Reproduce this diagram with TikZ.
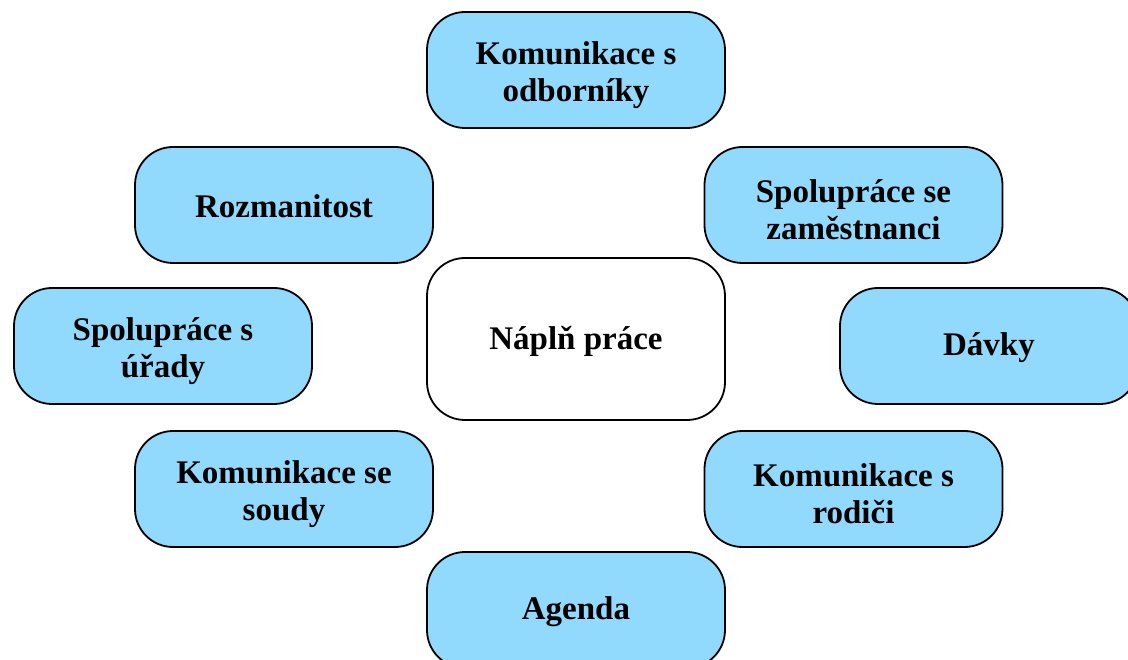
\documentclass[tikz,border=0pt]{standalone}
\usepackage{fontspec}
\setmainfont{Liberation Serif}
\definecolor{boxblue}{RGB}{145,218,253}
\begin{document}
\begin{tikzpicture}[x=1pt,y=-1pt,
  box/.style={draw=black, line width=1.8pt, fill=boxblue, rounded corners=38pt,
    minimum width=298pt, minimum height=116pt, inner sep=0pt},
  centerbox/.style={box, fill=white, minimum height=162pt},
  txt/.style={inner sep=0pt, align=center, font=\bfseries\fontsize{33}{37}\selectfont}]
\useasboundingbox (0,0) rectangle (1128,660);
\clip (0,0) rectangle (1128,660);
\node[box] (odb) at (576,70) {};
\node[box] (roz) at (284,205) {};
\node[box] (zam) at (853.5,205) {};
\node[box] (ura) at (163,346) {};
\node[centerbox] (nap) at (576,339) {};
\node[box] (dav) at (989,346) {};
\node[box] (sou) at (284,489) {};
\node[box] (rod) at (853.5,489) {};
\node[box] (age) at (576,610) {};
\node[txt] (todb) at ([yshift=-5pt]odb.center) {Komunikace s\\odborníky};
\node[txt] (troz) at ([yshift=-1pt]roz.center) {Rozmanitost};
\node[txt] (tzam) at ([yshift=-5pt]zam.center) {Spolupráce se\\zaměstnanci};
\node[txt] (tura) at ([yshift=-5pt]ura.center) {Spolupráce s\\úřady};
\node[txt] (tnap) at ([yshift=-2pt]nap.center) {Náplň práce};
\node[txt] (tdav) at ([yshift=-2pt]dav.center) {Dávky};
\node[txt] (tsou) at ([yshift=-5pt]sou.center) {Komunikace se\\soudy};
\node[txt] (trod) at ([yshift=-5pt]rod.center) {Komunikace s\\rodiči};
\node[txt] (tage) at ([yshift=-2pt]age.center) {Agenda};
\end{tikzpicture}
\end{document}
